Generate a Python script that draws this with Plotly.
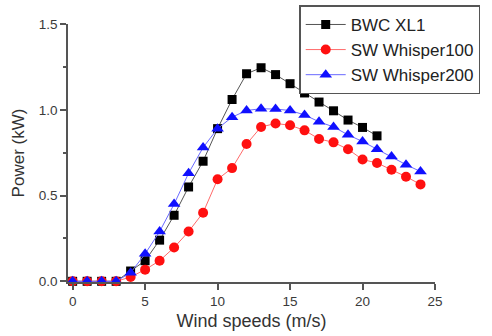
import plotly.graph_objects as go

wind = list(range(0, 25))
bwc_x = list(range(0, 22))
bwc_xl1 = [0, 0, 0, 0, 0.06, 0.12, 0.24, 0.385, 0.55, 0.70, 0.89, 1.06, 1.21, 1.245,
           1.205, 1.152, 1.098, 1.045, 0.994, 0.94, 0.897, 0.848]
sw100 = [0, 0, 0, 0, 0.025, 0.068, 0.12, 0.197, 0.29, 0.40, 0.595, 0.66, 0.80, 0.90,
         0.92, 0.91, 0.88, 0.83, 0.81, 0.77, 0.71, 0.69, 0.65, 0.61, 0.565]
sw200 = [0, 0, 0, 0, 0.05, 0.16, 0.29, 0.45, 0.63, 0.78, 0.89, 0.957, 0.996, 1.006,
         1.004, 0.996, 0.97, 0.93, 0.90, 0.854, 0.815, 0.77, 0.727, 0.68, 0.64]

names = ["BWC XL1", "SW Whisper100", "SW Whisper200"]
xtick_vals = [0, 5, 10, 15, 20, 25]
ytick_vals = [0.0, 0.5, 1.0, 1.5]

fig = go.Figure()
fig.add_trace(go.Scatter(x=bwc_x, y=bwc_xl1, name=names[0], mode="lines+markers",
                         line=dict(color="#555555", width=1),
                         marker=dict(symbol="square", size=9, color="black"),
                         cliponaxis=False))
fig.add_trace(go.Scatter(x=wind, y=sw100, name=names[1], mode="lines+markers",
                         line=dict(color="#ff6a6a", width=1),
                         marker=dict(symbol="circle", size=10, color="#ff1010"),
                         cliponaxis=False))
fig.add_trace(go.Scatter(x=wind, y=sw200, name=names[2], mode="lines+markers",
                         line=dict(color="#6a6aff", width=1),
                         marker=dict(symbol="triangle-up", size=11, color="#1010ff"),
                         cliponaxis=False))

axis_font = dict(family="Liberation Sans, Arial, sans-serif", size=13.5, color="#3a3a3a")
fig.update_layout(
    width=492, height=336,
    margin=dict(l=68, r=57, t=24, b=54, autoexpand=False),
    plot_bgcolor="white", paper_bgcolor="white",
    font=dict(family="Liberation Sans, Arial, sans-serif", color="#333333"),
    legend=dict(x=0.630, y=1.072, xanchor="left", yanchor="top",
                bordercolor="#555555", borderwidth=1.5, bgcolor="white",
                font=dict(size=17, color="#222222"), tracegroupgap=0,
                itemwidth=40),
    xaxis=dict(range=[-0.32, 25], tickvals=xtick_vals, ticks="outside", ticklen=6,
               tickwidth=1.5, tickcolor="#555555", showline=True, linecolor="#555555",
               linewidth=1.5, showgrid=False, zeroline=False, tickfont=axis_font,
               title=dict(text="Wind speeds (m/s)", font=dict(size=18, color="#333333"),
                          standoff=6)),
    yaxis=dict(range=[-0.004, 1.5], tickvals=ytick_vals, tickformat=".1f", ticks="outside",
               ticklen=6, tickwidth=1.5, tickcolor="#555555", showline=True,
               linecolor="#555555", linewidth=1.5, showgrid=False, zeroline=False,
               tickfont=axis_font,
               minor=dict(tickvals=[0.25, 0.75, 1.25], ticks="outside", ticklen=3,
                          tickcolor="#555555", tickwidth=1.5),
               title=dict(text="Power (kW)", font=dict(size=17, color="#333333"),
                          standoff=10)),
)

fig.write_html("out.html", config={"displayModeBar": False},
               post_script="document.body.style.margin='0';")
